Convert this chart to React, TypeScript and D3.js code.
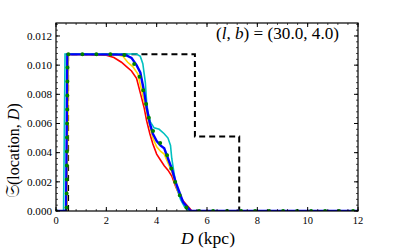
import { scaleLinear, line, range } from "d3";

// distance grid (kpc) and selection function values
const redD = [0, 0.42, 0.47, 1.0, 2.0, 2.3, 2.6, 2.8, 3.0, 3.2, 3.35, 3.5, 3.6, 3.73, 3.85, 4.0, 4.15, 4.3, 4.45, 4.6, 4.75, 4.9, 5.05, 5.2, 5.3, 5.4, 12];
const redS = [0, 0, 0.01074, 0.01074, 0.01068, 0.01052, 0.0102, 0.0099, 0.0096, 0.0091, 0.0081, 0.0071, 0.0062, 0.0053, 0.0046, 0.0039, 0.0035, 0.0031, 0.0028, 0.0024, 0.0017, 0.0011, 0.0007, 0.0004, 0.0002, 0, 0];

const yellowD = [0, 0.44, 0.49, 1.0, 2.4, 2.65, 2.85, 3.05, 3.25, 3.4, 3.55, 3.7, 3.85, 4.0, 4.15, 4.3, 4.45, 4.6, 4.75, 4.9, 5.05, 5.2, 5.3, 12];
const yellowS = [0, 0, 0.01074, 0.01074, 0.01072, 0.01062, 0.0102, 0.0099, 0.0094, 0.0083, 0.0072, 0.006, 0.005, 0.0044, 0.0041, 0.0039, 0.0033, 0.0027, 0.0018, 0.0011, 0.0006, 0.0002, 0, 0];

const cyanD = [0, 0.3, 0.36, 1.0, 3.2, 3.35, 3.45, 3.55, 3.6, 3.65, 3.75, 3.9, 4.1, 4.3, 4.45, 4.55, 4.6, 4.7, 4.8, 4.95, 5.1, 5.25, 12];
const cyanS = [0, 0, 0.01076, 0.01076, 0.01076, 0.0106, 0.0101, 0.0088, 0.0075, 0.0068, 0.0061, 0.0057, 0.0056, 0.0053, 0.005, 0.0045, 0.0036, 0.0025, 0.0016, 0.0008, 0.0003, 0, 0];

const blueD = [0, 0.4, 0.45, 1.0, 2.6, 2.8, 3.0, 3.2, 3.35, 3.5, 3.6, 3.73, 3.85, 4.0, 4.15, 4.3, 4.45, 4.6, 4.75, 4.9, 5.05, 5.2, 5.35, 12];
const blueS = [0, 0, 0.01074, 0.01074, 0.01072, 0.01066, 0.0105, 0.01, 0.0095, 0.0082, 0.0071, 0.006, 0.0053, 0.0048, 0.0045, 0.0043, 0.0036, 0.0029, 0.002, 0.0013, 0.0006, 0.0003, 0, 0];

const greenD = [0, 0.42, 0.46, 1.0, 2.5, 2.8, 3.0, 3.2, 3.4, 3.55, 3.7, 3.85, 4.0, 4.2, 4.4, 4.6, 4.8, 5.0, 5.2, 5.35, 12];
const greenS = [0, 0, 0.01074, 0.01074, 0.01074, 0.01068, 0.0104, 0.0098, 0.0088, 0.0076, 0.0063, 0.0055, 0.005, 0.0045, 0.0039, 0.0028, 0.0016, 0.0007, 0.0002, 0, 0];

const dashD = [0.48, 0.48, 5.52, 5.52, 7.28, 7.28];
const dashS = [0, 0.01074, 0.01074, 0.0051, 0.0051, 0];

const xTicks = [0, 2, 4, 6, 8, 10, 12];
const yTicks = [0, 0.002, 0.004, 0.006, 0.008, 0.01, 0.012];

const width = 398;
const height = 248;
const margin = { top: 23, bottom: 37, left: 56, right: 40 };
const innerWidth = width - margin.left - margin.right;
const innerHeight = height - margin.top - margin.bottom;

const serif = { fontFamily: '"Liberation Serif", "DejaVu Serif", serif' };

export default function App() {
  const x = scaleLinear().domain([0, 12]).range([0, innerWidth]);
  const y = scaleLinear().domain([0, 0.01289]).range([innerHeight, 0]);

  const path = (ds: number[], ss: number[]) =>
    line<number>()
      .x((d) => x(d))
      .y((_, i) => y(ss[i]))(ds) ?? "";

  const xMinor = range(0, 12.001, 0.4);
  const yMinor = range(0, 0.0129, 0.0004);

  return (
    <svg width={width} height={height} style={{ position: "absolute", left: 0, top: 0 }}>
      <g transform={`translate(${margin.left}, ${margin.top})`}>
        <defs>
          <clipPath id="plot">
            <rect width={innerWidth} height={innerHeight} />
          </clipPath>
        </defs>
        <g clipPath="url(#plot)" fill="none">
          <path d={path(dashD, dashS)} stroke="black" strokeWidth={2} strokeDasharray="6,4" />
          <path d={path(redD, redS)} stroke="#ff0000" strokeWidth={1.6} />
          <path d={path(yellowD, yellowS)} stroke="#ffd700" strokeWidth={1.6} />
          <path d={path(cyanD, cyanS)} stroke="#00c0c0" strokeWidth={1.6} />
          <path d={path(blueD, blueS)} stroke="#0000ff" strokeWidth={2.4} />
          <path
            d={path(greenD, greenS)}
            stroke="#008000"
            strokeWidth={4}
            strokeLinecap="round"
            strokeDasharray="0,14"
          />
        </g>

        {xMinor.map((t) => (
          <g key={`xm${t}`} stroke="black" strokeWidth={0.7}>
            <line x1={x(t)} x2={x(t)} y1={innerHeight} y2={innerHeight - 2} />
            <line x1={x(t)} x2={x(t)} y1={0} y2={2} />
          </g>
        ))}
        {yMinor.map((t) => (
          <g key={`ym${t}`} stroke="black" strokeWidth={0.7}>
            <line x1={0} x2={2} y1={y(t)} y2={y(t)} />
            <line x1={innerWidth} x2={innerWidth - 2} y1={y(t)} y2={y(t)} />
          </g>
        ))}
        {xTicks.map((t) => (
          <g key={`x${t}`}>
            <line x1={x(t)} x2={x(t)} y1={innerHeight} y2={innerHeight - 4} stroke="black" />
            <line x1={x(t)} x2={x(t)} y1={0} y2={4} stroke="black" />
            <text x={x(t)} y={innerHeight + 12.5} textAnchor="middle" style={serif} fontSize={10.5}>
              {t}
            </text>
          </g>
        ))}
        {yTicks.map((t) => (
          <g key={`y${t}`}>
            <line x1={0} x2={4} y1={y(t)} y2={y(t)} stroke="black" />
            <line x1={innerWidth} x2={innerWidth - 4} y1={y(t)} y2={y(t)} stroke="black" />
            <text
              x={-4}
              y={y(t)}
              dy="0.35em"
              textAnchor="end"
              style={serif}
              fontSize={10.5}
              textLength={25}
              lengthAdjust="spacingAndGlyphs"
            >
              {t.toFixed(3)}
            </text>
          </g>
        ))}
        <rect width={innerWidth} height={innerHeight} fill="none" stroke="black" strokeWidth={1.2} />

        <text x={160} y={16} style={serif} fontSize={16} textLength={123} lengthAdjust="spacingAndGlyphs">
          (<tspan fontStyle="italic">l</tspan>, <tspan fontStyle="italic">b</tspan>) = (30.0, 4.0)
        </text>
      </g>

      <text
        x={208}
        y={244}
        textAnchor="middle"
        style={serif}
        fontSize={17}
        textLength={54}
        lengthAdjust="spacingAndGlyphs"
      >
        <tspan fontStyle="italic">D</tspan> (kpc)
      </text>

      <g transform="translate(19, 198) rotate(-90)">
        <text x={0} y={0} style={serif} fontSize={16}>
          <tspan fontSize={19} style={{ fontFamily: '"DejaVu Serif", "DejaVu Sans", serif' }}>
            𝔖
          </tspan>
          <tspan>(location, </tspan>
          <tspan fontStyle="italic">D</tspan>
          <tspan>)</tspan>
        </text>
      </g>
    </svg>
  );
}
